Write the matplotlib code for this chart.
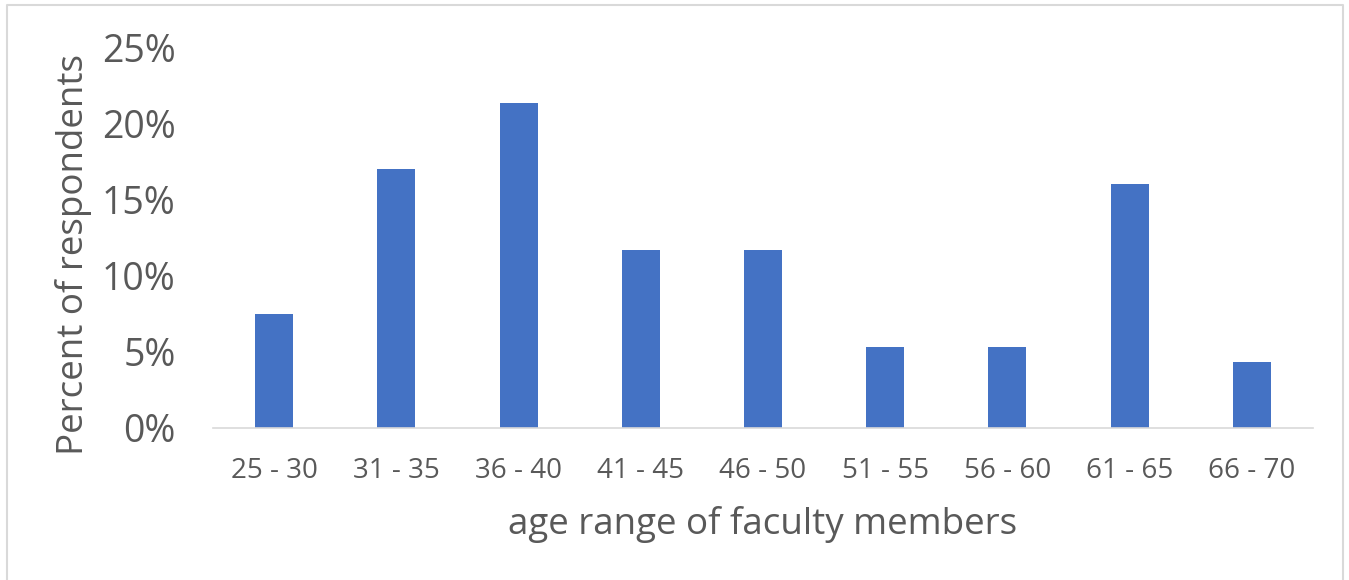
import matplotlib.pyplot as plt
from matplotlib.lines import Line2D

# age ranges and share of respondents (percent)
age_ranges = ['25 - 30', '31 - 35', '36 - 40', '41 - 45', '46 - 50',
              '51 - 55', '56 - 60', '61 - 65', '66 - 70']
percent = [7.45, 17.0, 21.3, 11.7, 11.7, 5.3, 5.3, 16.0, 4.3]
y_ticks = [0, 5, 10, 15, 20, 25]

text_color = '#595959'
bar_color = '#4472C4'
line_color = '#d9d9d9'

plt.rcParams['font.family'] = ['Open Sans', 'DejaVu Sans']

fig = plt.figure(figsize=(13.49, 5.8), dpi=100)
ax = fig.add_axes([213 / 1349, 1 - 428 / 580, 1100 / 1349, (428 - 47) / 580])

ax.bar(range(len(age_ranges)), percent, width=0.31, color=bar_color)
ax.set_xlim(-0.5, len(age_ranges) - 0.5)
ax.set_ylim(0, 25)

ax.set_yticks(y_ticks)
ax.set_yticklabels([f'{t}%' for t in y_ticks])
ax.set_xticks(range(len(age_ranges)))
ax.set_xticklabels(age_ranges)

ax.tick_params(axis='y', length=0, pad=27, labelsize=27, labelcolor=text_color)
ax.tick_params(axis='x', length=0, pad=21, labelsize=20, labelcolor=text_color)

for side in ['top', 'right', 'left']:
    ax.spines[side].set_visible(False)
ax.spines['bottom'].set_color(line_color)
ax.spines['bottom'].set_linewidth(1.2)

ax.set_xlabel('age range of faculty members', fontsize=26.5, color=text_color, labelpad=15)
ax.set_ylabel('Percent of respondents', fontsize=26.5, color=text_color, labelpad=7)
ax.yaxis.label.set_y(0.455)

# light border around the chart area
fig.add_artist(Line2D([7 / 1349, 7 / 1349, 1343 / 1349, 1343 / 1349],
                      [0, 1 - 5 / 580, 1 - 5 / 580, 0],
                      transform=fig.transFigure, color=line_color, linewidth=1.5))

fig.savefig('out.png', dpi=100)
